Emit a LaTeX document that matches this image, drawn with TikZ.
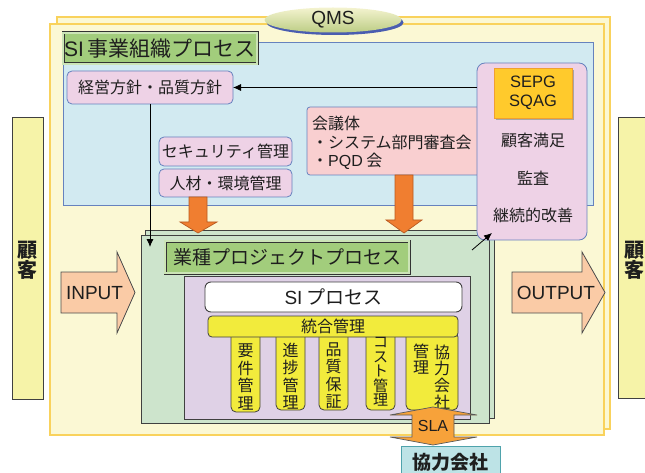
\documentclass[tikz,border=0pt]{standalone}
\usepackage{fontspec}
\setmainfont{Noto Sans CJK JP}
\newfontfamily\lat{Liberation Sans}
\usetikzlibrary{arrows.meta,shadows,shapes.geometric}
\definecolor{frameY}{HTML}{FBF8D4}
\definecolor{frameB}{HTML}{F9D25C}
\definecolor{blueF}{HTML}{D2EAF1}
\definecolor{blueB}{HTML}{6682BE}
\definecolor{titleG}{HTML}{A2CD7C}
\definecolor{pinkF}{HTML}{EED2E6}
\definecolor{salmon}{HTML}{F9CFD0}
\definecolor{orangeA}{HTML}{F07E30}
\definecolor{orangeB}{HTML}{B85A20}
\definecolor{greenF}{HTML}{CDE4CC}
\definecolor{purpleF}{HTML}{DFD1E6}
\definecolor{yellowC}{HTML}{F2EB3C}
\definecolor{peach}{HTML}{FACBA6}
\definecolor{custY}{HTML}{F6F3A8}
\definecolor{gold}{HTML}{FFCA2C}
\definecolor{goldB}{HTML}{F0A030}
\definecolor{slaO}{HTML}{F7A23A}
\definecolor{cyanF}{HTML}{BDE3E6}
\definecolor{cyanB}{HTML}{4FA3AC}
\definecolor{qmsTop}{HTML}{F4F3D0}
\definecolor{qmsBot}{HTML}{BCCD85}
\definecolor{qmsShadow}{HTML}{4A5DB0}
\definecolor{txt}{HTML}{1E1E1E}
\begin{document}
\begin{tikzpicture}[x=1pt,y=-1pt,
  box/.style n args={4}{anchor=north west, at={(#1,#2)}, minimum width={(#3-#1)*1pt}, minimum height={(#4-#2)*1pt}, inner sep=0pt, outer sep=0pt},
  frame/.style={fill=frameY, draw=frameB, line width=1.4pt},
  region/.style={fill=blueF, draw=blueB, line width=0.8pt},
  titlebox/.style={fill=titleG, draw=black!80, double=titleG!55!white, double distance=1.2pt, line width=0.9pt, text=txt},
  pinkbox/.style={fill=pinkF, draw=blueB, line width=0.8pt, rounded corners=5pt, text=txt, font=\fontsize{16}{18}\selectfont},
  darkbox/.style={draw=black!75, line width=0.9pt},
  colbox/.style={fill=yellowC, draw=black!75, line width=0.8pt, rounded corners=5pt},
  vtext/.style={align=center, inner sep=0pt, text=txt, font=\fontsize{16}{17.5}\selectfont},
  fatarrow/.style={fill=orangeA, draw=orangeB, line width=0.7pt},
  bigarrow/.style={fill=peach, draw=black!70, line width=0.8pt},
  conn/.style={draw=black, line width=0.8pt, -{Latex[length=8pt,width=7pt]}},
  plain/.style={inner sep=0pt, text=txt}
]
\useasboundingbox (0,0) rectangle (645,473);
% QMS frames
\node[frame, box={57}{17}{610}{429}] (qmsback) {};
\node[frame, box={50}{24}{604}{435}] (qmsfront) {};
% QMS ellipse
\fill[qmsShadow] (335,22.5) ellipse [x radius=68.5pt, y radius=12.5pt];
\node[ellipse, top color=qmsTop, bottom color=qmsBot, minimum width=137pt, minimum height=25pt, inner sep=0pt, font=\lat\fontsize{19}{20}\selectfont, text=txt] (qms) at (333,20) {QMS};
% SI business organisation process
\node[region, box={63}{42}{593}{205}] (siorg) {};
\node[titlebox, box={63}{33}{257}{64}, font=\fontsize{21}{22}\selectfont] (siorgtitle) {{\lat SI}\hspace{4pt}事業組織プロセス};
\node[pinkbox, box={67}{71}{233}{104}] (keiei) {経営方針・品質方針};
\node[pinkbox, box={159}{137}{292}{166}] (sec) {セキュリティ管理};
\node[pinkbox, box={159}{169}{292}{197}] (jinzai) {人材・環境管理};
\node[pinkbox, fill=salmon, rounded corners=3pt, box={307}{107}{482}{175}] (kaigi) {};
\node[plain, anchor=west, align=left, font=\fontsize{16}{18.5}\selectfont] (kaigitext) at (312,143) {会議体\\・システム部門審査会\\・{\lat PQD} 会};
% customers
\node[darkbox, fill=custY, box={12}{117}{43}{399}] (custL) {};
\node[plain, align=center, font=\bfseries\fontsize{20}{19}\selectfont] (custLtext) at (27.5,260) {顧\\客};
\node[darkbox, fill=custY, box={618}{117}{649}{398}] (custR) {};
\node[plain, align=center, font=\bfseries\fontsize{20}{19}\selectfont] (custRtext) at (634,260) {顧\\客};
% INPUT / OUTPUT
\draw[bigarrow] (61,272) -- (117,272) -- (117,252) -- (135,292.5) -- (117,333) -- (117,313) -- (61,313) -- cycle;
\node[plain, font=\lat\fontsize{19}{20}\selectfont] (input) at (94.5,293) {INPUT};
\draw[bigarrow] (512,272) -- (582,272) -- (582,252) -- (605,292.5) -- (582,333) -- (582,313) -- (512,313) -- cycle;
\node[plain, font=\lat\fontsize{19}{20}\selectfont] (output) at (556,293) {OUTPUT};
% project process
\node[darkbox, fill=greenF, box={145}{230}{494}{418}] (projback) {};
\node[darkbox, fill=greenF, box={141}{235}{489}{423}] (proj) {};
\node[titlebox, box={165}{241}{409}{273}, font=\fontsize{19}{20}\selectfont] (projtitle) {業種プロジェクトプロセス};
\node[darkbox, fill=purpleF, line width=0.8pt, box={184}{276}{470}{419}] (purple) {};
\node[darkbox, fill=white, rounded corners=6pt, box={205}{282}{462}{312}, font=\fontsize{19}{20}\selectfont, text=txt] (siproc) {{\lat SI}\hspace{4pt}プロセス};
% columns
\node[colbox, box={231}{332}{260}{412}] (col1) {};
\node[colbox, box={276}{332}{305}{410}] (col2) {};
\node[colbox, box={319}{332}{348}{410}] (col3) {};
\node[colbox, box={366}{332}{395}{410}] (col4) {};
\node[colbox, box={406}{332}{458}{410}] (col5) {};
\node[colbox, rounded corners=4pt, box={208}{316}{458}{337}, font=\fontsize{16}{17}\selectfont, text=txt] (togo) {統合管理};
\node[vtext] (col1text) at (245.5,377) {要\\件\\管\\理};
\node[vtext] (col2text) at (290.5,376) {進\\捗\\管\\理};
\node[vtext] (col3text) at (333.5,376) {品\\質\\保\\証};
\node[vtext, font=\fontsize{15}{14.5}\selectfont] (col4text) at (380.5,372) {コ\\ス\\ト\\管\\理};
\node[vtext, font=\fontsize{16}{16.7}\selectfont] (col5a) at (442,377) {協\\力\\会\\社};
\node[vtext, font=\fontsize{16}{16.7}\selectfont] (col5b) at (421,359) {管\\理};
% SLA and partner
\draw[fill=slaO, draw=black!65, line width=0.7pt] (433,407) -- (477,415) -- (454,415) -- (454,437) -- (477,437) -- (433,445) -- (390,437) -- (412,437) -- (412,415) -- (390,415) -- cycle;
\node[plain, font=\lat\fontsize{16}{17}\selectfont] (sla) at (433,426) {SLA};
\node[fill=cyanF, draw=cyanB, line width=0.9pt, box={401}{446}{500}{482}] (partner) {};
\node[plain, font=\bfseries\fontsize{19}{20}\selectfont] (partnertext) at (450.5,462) {協力会社};
% orange arrows
\draw[fatarrow] (189,197) -- (207,197) -- (207,222) -- (217,222) -- (198,233) -- (180,222) -- (189,222) -- cycle;
\draw[fatarrow] (395,175) -- (413,175) -- (413,220) -- (422,220) -- (404,233) -- (386,220) -- (395,220) -- cycle;
% right panel
\node[pinkbox, rounded corners=8pt, box={477}{63}{587}{240}] (panel) {};
\node[fill=gold, draw=goldB, line width=0.9pt, drop shadow={shadow xshift=2pt, shadow yshift=-2pt, fill=black!35, opacity=1}, box={494}{68}{572}{118}, align=center, font=\lat\fontsize{16.5}{19}\selectfont, text=txt] (sepg) {SEPG\\SQAG};
\node[plain, font=\fontsize{16}{18}\selectfont] (cs) at (533,140) {顧客満足};
\node[plain, font=\fontsize{16}{18}\selectfont] (audit) at (533,178) {監査};
\node[plain, font=\fontsize{16}{18}\selectfont] (kaizen) at (533,215) {継続的改善};
% connectors
\coordinate (projin) at (150,247);
\coordinate (dstart) at (472,250);
\coordinate (dtip) at (492,233);
\draw[conn] (keiei.east -| panel.west) -- (keiei.east);
\draw[conn] (keiei.south) -- (projin);
\draw[conn] (dstart) -- (dtip);
\end{tikzpicture}
\end{document}
